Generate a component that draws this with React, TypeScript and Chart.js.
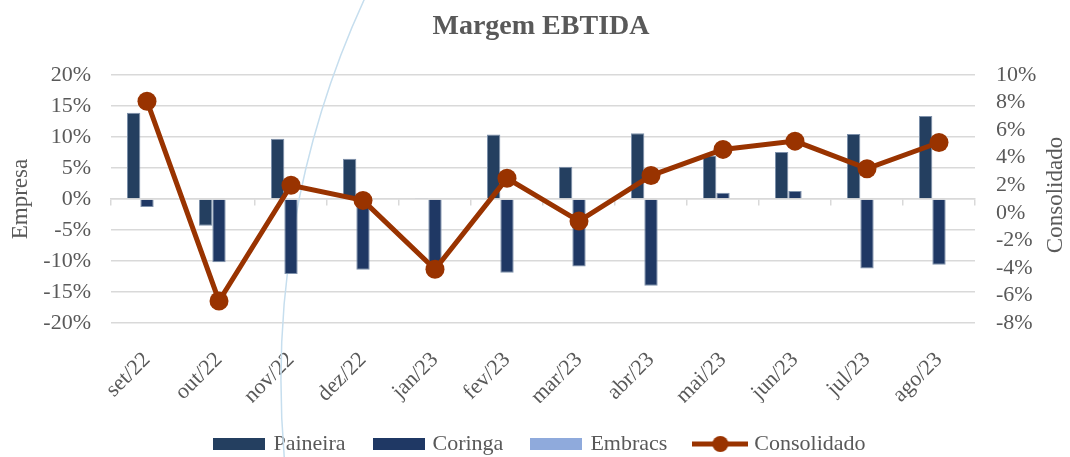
import React, { useEffect, useRef } from 'react';
import { Chart, registerables } from 'chart.js';

Chart.register(...registerables);

const categories = ['set/22', 'out/22', 'nov/22', 'dez/22', 'jan/23', 'fev/23', 'mar/23', 'abr/23', 'mai/23', 'jun/23', 'jul/23', 'ago/23'];
const paineira = [13.9, -4.3, 9.7, 6.5, 0.1, 10.4, 5.2, 10.6, 7.0, 7.6, 10.5, 13.4];
const coringa = [-1.3, -10.2, -12.1, -11.4, -10.3, -11.9, -10.9, -14.0, 1.0, 1.3, -11.2, -10.6];
const embracs = [0, 0, 0, 0, 0, 0, 0, 0, 0, 0, 0, 0];
const consolidado = [8.1, -6.4, 2.0, 0.9, -4.1, 2.5, -0.6, 2.7, 4.6, 5.2, 3.2, 5.1];

const empresaMin = -20;
const empresaMax = 20;
const empresaStep = 5;
const consolidadoMin = -8;
const consolidadoMax = 10;
const consolidadoStep = 2;

const FONT = "'Liberation Serif', 'Times New Roman', serif";
const GREY = '#595959';
const GRID = '#d9d9d9';
const C_PAINEIRA = '#243F60';
const C_CORINGA = '#1F3864';
const C_EMBRACS = '#8FAADC';
const C_CONSOL = '#993300';

function rectSwatch(color: string) {
  const c = document.createElement('canvas');
  c.width = 52;
  c.height = 12;
  const g = c.getContext('2d')!;
  g.fillStyle = color;
  g.fillRect(0, 0, 52, 12);
  return c;
}

function lineSwatch(color: string) {
  const c = document.createElement('canvas');
  c.width = 56;
  c.height = 18;
  const g = c.getContext('2d')!;
  g.strokeStyle = color;
  g.lineWidth = 5;
  g.beginPath();
  g.moveTo(0, 9);
  g.lineTo(56, 9);
  g.stroke();
  g.fillStyle = color;
  g.beginPath();
  g.arc(28, 9, 8, 0, Math.PI * 2);
  g.fill();
  return c;
}

const decor = {
  id: 'decor',
  beforeDatasetsDraw(chart: any) {
    const ctx = chart.ctx;
    ctx.save();
    ctx.strokeStyle = '#c6deee';
    ctx.lineWidth = 1.5;
    ctx.beginPath();
    ctx.arc(1192, 380, 911, 3.0, 3.62);
    ctx.stroke();
    ctx.restore();
  },
  afterDraw(chart: any) {
    const ctx = chart.ctx;
    ctx.save();
    ctx.translate(1056, 195);
    ctx.rotate(-Math.PI / 2);
    ctx.textAlign = 'center';
    ctx.textBaseline = 'middle';
    ctx.font = `23px ${FONT}`;
    ctx.fillStyle = GREY;
    ctx.fillText('Consolidado', 0, 0);
    ctx.restore();
  },
};

export default function App() {
  const ref = useRef<HTMLCanvasElement>(null);

  useEffect(() => {
    document.body.style.margin = '0';
    const canvas = ref.current!;
    const swatches = [rectSwatch(C_PAINEIRA), rectSwatch(C_CORINGA), rectSwatch(C_EMBRACS), lineSwatch(C_CONSOL)];
    const legendNames = ['Paineira', 'Coringa', 'Embracs', 'Consolidado'];
    const legendDs = [1, 2, 3, 0];

    const chart = new Chart(canvas, {
      type: 'bar',
      data: {
        labels: categories,
        datasets: [
          {
            type: 'line',
            label: 'Consolidado',
            data: consolidado,
            yAxisID: 'y1',
            xAxisID: 'x',
            order: 0,
            borderColor: C_CONSOL,
            backgroundColor: C_CONSOL,
            borderWidth: 5,
            pointRadius: 9.5,
            pointHoverRadius: 9.5,
            pointBackgroundColor: C_CONSOL,
            pointBorderWidth: 0,
            tension: 0,
          } as any,
          {
            label: 'Paineira',
            data: paineira,
            yAxisID: 'y',
            xAxisID: 'x',
            order: 1,
            backgroundColor: C_PAINEIRA,
            borderColor: '#7e91ab',
            borderWidth: 1,
            categoryPercentage: 0.556,
            barPercentage: 1,
          },
          {
            label: 'Coringa',
            data: coringa,
            yAxisID: 'y',
            xAxisID: 'x',
            order: 1,
            backgroundColor: C_CORINGA,
            borderColor: '#7e91ab',
            borderWidth: 1,
            categoryPercentage: 0.556,
            barPercentage: 1,
          },
          {
            label: 'Embracs',
            data: embracs,
            yAxisID: 'y',
            xAxisID: 'x',
            order: 1,
            backgroundColor: C_EMBRACS,
            borderWidth: 0,
            categoryPercentage: 0.556,
            barPercentage: 1,
          },
        ],
      },
      options: {
        responsive: false,
        animation: false,
        events: [],
        layout: { padding: { left: 12, right: 0, top: 0, bottom: -8 } },
        plugins: {
          title: {
            display: true,
            text: 'Margem EBTIDA',
            color: GREY,
            font: { family: FONT, size: 28, weight: 'bold', lineHeight: 1.2 },
            padding: { top: 10, bottom: 31.4 },
          },
          legend: {
            position: 'bottom',
            labels: {
              usePointStyle: true,
              pointStyleWidth: 46,
              padding: 30,
              color: GREY,
              font: { family: FONT, size: 22 },
              generateLabels: () =>
                legendNames.map((t, i) => ({
                  text: t,
                  fillStyle: 'transparent',
                  strokeStyle: 'transparent',
                  lineWidth: 0,
                  hidden: false,
                  datasetIndex: legendDs[i],
                  pointStyle: swatches[i],
                  fontColor: GREY,
                })) as any,
            },
          },
          tooltip: { enabled: false },
        },
        scales: {
          x: {
            type: 'category',
            position: 'bottom',
            grid: { display: false },
            border: { display: false },
            ticks: {
              font: { family: FONT, size: 22 },
              color: GREY,
              minRotation: 45,
              maxRotation: 45,
              autoSkip: false,
              padding: 16,
            },
            afterFit(s: any) {
              s.height = 80;
            },
          },
          x2: {
            type: 'category',
            axis: 'x',
            position: { y: 0 },
            offset: true,
            grid: { offset: true, drawOnChartArea: false, drawTicks: true, tickLength: 6, color: GRID, lineWidth: 1.5 },
            border: { display: true, color: GRID, width: 1.5 },
            ticks: { display: false },
          } as any,
          y: {
            position: 'left',
            min: empresaMin,
            max: empresaMax,
            ticks: {
              stepSize: empresaStep,
              autoSkip: false,
              callback: (v: any) => `${v}%`,
              font: { family: FONT, size: 22, lineHeight: 1 },
              color: GREY,
              padding: 20,
            },
            grid: { color: GRID, lineWidth: 1.5, drawTicks: false },
            border: { display: false },
            title: {
              display: true,
              text: 'Empresa',
              color: GREY,
              font: { family: FONT, size: 23, lineHeight: 1.2 },
              padding: { top: -5, bottom: 0 },
            },
            afterFit(s: any) {
              s.width = 99;
            },
          },
          y1: {
            position: 'right',
            min: consolidadoMin,
            max: consolidadoMax,
            ticks: {
              stepSize: consolidadoStep,
              autoSkip: false,
              maxTicksLimit: 20,
              callback: (v: any) => `${v}%`,
              font: { family: FONT, size: 22, lineHeight: 1 },
              color: GREY,
              padding: 21,
            },
            grid: { drawOnChartArea: false, drawTicks: false },
            border: { display: false },
            afterFit(s: any) {
              s.width = 95;
            },
          },
        },
      },
      plugins: [decor],
    });

    return () => chart.destroy();
  }, []);

  return (
    <div style={{ width: 1070, height: 457, background: '#fff' }}>
      <canvas ref={ref} width={1070} height={457} style={{ display: 'block' }} />
    </div>
  );
}
